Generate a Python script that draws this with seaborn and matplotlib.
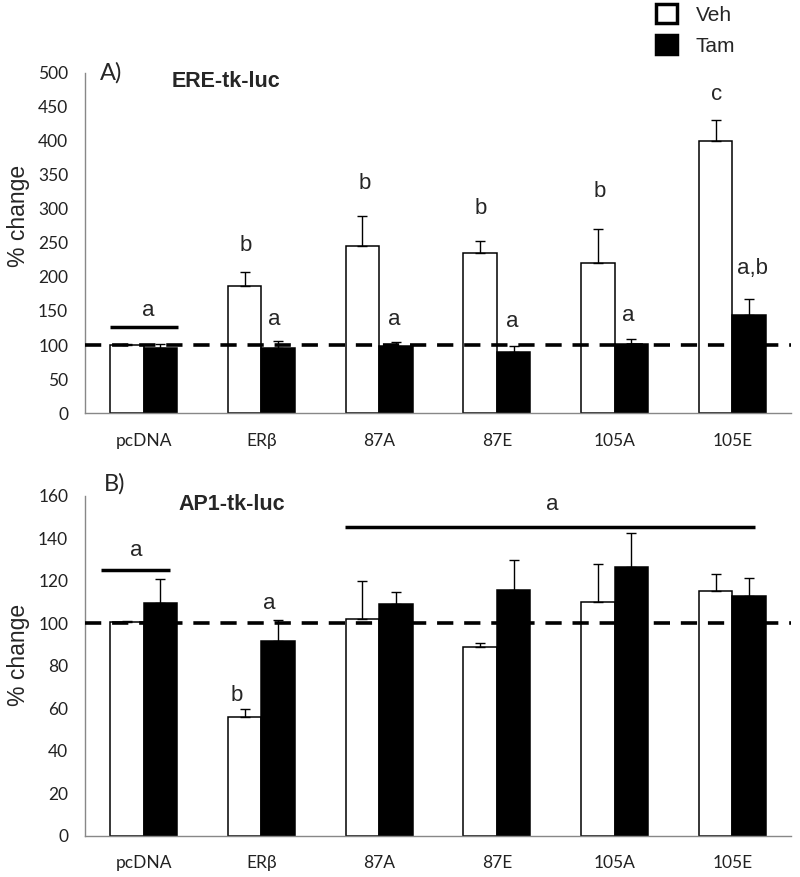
import matplotlib
matplotlib.use("Agg")
import matplotlib.pyplot as plt
from matplotlib.patches import Patch
import seaborn as sns
import pandas as pd
import numpy as np

CATEGORIES = ["pcDNA", "ERβ", "87A", "87E", "105A", "105E"]
TREATMENTS = ["Veh", "Tam"]

# panel A: ERE-tk-luc
ERE_VEH = [100, 186, 246, 235, 221, 400]
ERE_VEH_ERR = [1, 21, 43, 18, 50, 30]
ERE_TAM = [96, 96, 98, 89, 101, 144]
ERE_TAM_ERR = [6, 10, 6, 9, 8, 24]

# panel B: AP1-tk-luc
AP1_VEH = [100.5, 55.7, 102, 88.8, 110, 115.2]
AP1_VEH_ERR = [0.6, 4, 18, 2, 17.6, 7.8]
AP1_TAM = [109.6, 91.5, 109.2, 115.5, 126.4, 112.6]
AP1_TAM_ERR = [11.2, 10, 5.4, 14, 16, 8.7]

# significance letters (x in category units, y in data units)
ERE_LETTERS = ["a", "b", "a", "b", "a", "b", "a", "b", "a", "c", "a,b"]
ERE_LETTER_X = [0.04, 0.87, 1.11, 1.88, 2.13, 2.86, 3.13, 3.87, 4.12, 4.87, 5.17]
ERE_LETTER_Y = [151, 246, 137, 338, 137, 301, 134, 326, 143, 468, 213]
ERE_LINES = [(-0.29, 0.29, 126)]

AP1_LETTERS = ["a", "b", "a", "a"]
AP1_LETTER_X = [-0.06, 0.79, 1.07, 3.47]
AP1_LETTER_Y = [134, 66, 109, 156]
AP1_LINES = [(-0.36, 0.22, 125), (1.71, 5.19, 145.3)]

BAR_WIDTH = 0.57
TICK_FONT = "Lato"
TEXT_FONT = "Liberation Sans"


def draw_panel(ax, veh, veh_err, tam, tam_err, ymax, step, letters, lx, ly, lines):
    df = pd.DataFrame({
        "construct": CATEGORIES * 2,
        "treatment": ["Veh"] * len(CATEGORIES) + ["Tam"] * len(CATEGORIES),
        "value": veh + tam,
    })
    sns.barplot(data=df, x="construct", y="value", hue="treatment",
                order=CATEGORIES, hue_order=TREATMENTS,
                palette={"Veh": "white", "Tam": "black"}, saturation=1,
                edgecolor="black", linewidth=1.1, width=BAR_WIDTH,
                errorbar=None, legend=False, ax=ax, zorder=2)
    pos = np.arange(len(CATEGORIES))
    off = BAR_WIDTH / 4
    for vals, errs, dx in [(veh, veh_err, -off), (tam, tam_err, off)]:
        ax.errorbar(pos + dx, vals, yerr=[np.zeros(len(vals)), errs], fmt="none",
                    ecolor="black", elinewidth=1, capsize=3.5, capthick=1, zorder=3)
    ax.axhline(100, color="black", lw=2.6, ls=(0, (4.5, 3)), zorder=4)
    for t, x, y in zip(letters, lx, ly):
        ax.text(x, y, t, ha="center", va="center", fontsize=16,
                family=TEXT_FONT, zorder=5)
    for x0, x1, y in lines:
        ax.plot([x0, x1], [y, y], color="black", lw=2.5, zorder=5,
                solid_capstyle="butt")

    ax.set_xlim(-0.5, len(CATEGORIES) - 0.5)
    ax.set_ylim(0, ymax)
    ax.set_yticks(np.arange(0, ymax + 1, step))
    ax.set_xticks(pos)
    ax.set_xticklabels(CATEGORIES)
    ax.set_xticks(np.arange(-0.5, len(CATEGORIES), 1), minor=True)
    ax.tick_params(axis="x", which="major", length=0, pad=14, labelsize=12.5,
                   labelcolor="#222")
    ax.tick_params(axis="x", which="minor", length=6, width=1, color="#888",
                   direction="out")
    ax.tick_params(axis="y", length=5, width=1, color="#888", direction="out",
                   labelsize=12.5, labelcolor="#222", pad=7)
    for lab in ax.get_xticklabels() + ax.get_yticklabels():
        lab.set_family(TICK_FONT)
    for side in ["top", "right"]:
        ax.spines[side].set_visible(False)
    for side in ["left", "bottom"]:
        ax.spines[side].set_color("#888")
        ax.spines[side].set_linewidth(1)
    ax.set_xlabel("")
    ax.set_ylabel("% change", fontsize=16.5, family=TEXT_FONT)


sns.set_style("white")
plt.rcParams["font.family"] = ["Liberation Sans", "DejaVu Sans"]

fig = plt.figure(figsize=(8, 8.77), dpi=100)
ax_a = fig.add_axes([0.106, 0.529, 0.883, 0.388])
ax_b = fig.add_axes([0.106, 0.047, 0.883, 0.388])

draw_panel(ax_a, ERE_VEH, ERE_VEH_ERR, ERE_TAM, ERE_TAM_ERR, 500, 50,
           ERE_LETTERS, ERE_LETTER_X, ERE_LETTER_Y, ERE_LINES)
draw_panel(ax_b, AP1_VEH, AP1_VEH_ERR, AP1_TAM, AP1_TAM_ERR, 160, 20,
           AP1_LETTERS, AP1_LETTER_X, AP1_LETTER_Y, AP1_LINES)

ax_a.yaxis.set_label_coords(-0.078, 0.58)
ax_b.yaxis.set_label_coords(-0.078, 0.53)

ax_a.text(0.021, 1.0, "A)", transform=ax_a.transAxes, ha="left", va="center",
          fontsize=17, family=TICK_FONT)
ax_a.text(0.123, 0.974, "ERE-tk-luc", transform=ax_a.transAxes, ha="left",
          va="center", fontsize=15.5, fontweight="bold", family=TEXT_FONT)
ax_b.text(0.027, 1.035, "B)", transform=ax_b.transAxes, ha="left", va="center",
          fontsize=17, family=TICK_FONT)
ax_b.text(0.133, 0.974, "AP1-tk-luc", transform=ax_b.transAxes, ha="left",
          va="center", fontsize=15.5, fontweight="bold", family=TEXT_FONT)

handles = [Patch(facecolor="white", edgecolor="black", linewidth=2.5),
           Patch(facecolor="black", edgecolor="black", linewidth=2.5)]
fig.legend(handles, TREATMENTS, loc="upper left", bbox_to_anchor=(0.82, 0.995),
           frameon=False, fontsize=15, handlelength=1.0, handleheight=1.0,
           handletextpad=0.9, labelspacing=0.5, borderpad=0, borderaxespad=0)

plt.savefig("out.png", dpi=100)
plt.close()
